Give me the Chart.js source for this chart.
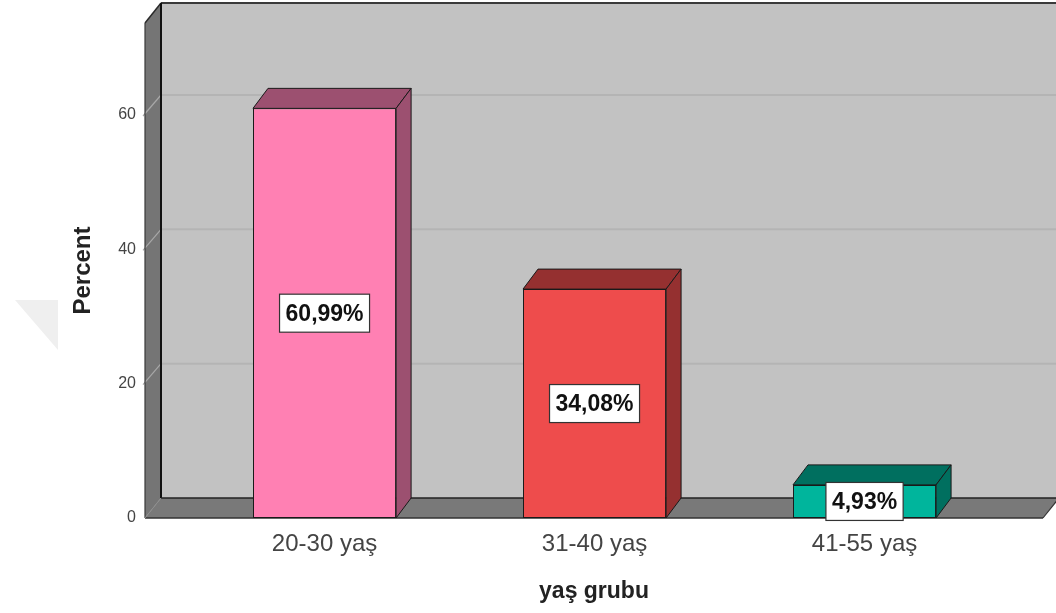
<!DOCTYPE html>
<html>
<head>
<meta charset="utf-8">
<title>yaş grubu</title>
<script src="https://cdn.jsdelivr.net/npm/chart.js@4.4.1/dist/chart.umd.min.js"></script>
<style>
  html, body { margin: 0; padding: 0; background: #fff; }
  canvas { display: block; }
</style>
</head>
<body>
<canvas id="chart" width="1056" height="613"></canvas>
<script>
const categories = ['20-30 yaş', '31-40 yaş', '41-55 yaş'];
const percents = [60.99, 34.08, 4.93];
const percentTicks = [0, 20, 40, 60];

const frontColors = ['#ff80b3', '#ee4c4c', '#00b59c'];
const sideColors = ['#9c5070', '#953030', '#006f5f'];

// depth of the walls and of the bars (screen offset of the back face)
const WALL_DX = 16, WALL_DY = -20;
const BAR_DX = 15, BAR_DY = -20;

const FONT = 'Arial, "Liberation Sans", sans-serif';

function poly(ctx, pts, fill, stroke, lw) {
    ctx.beginPath();
    ctx.moveTo(pts[0][0], pts[0][1]);
    for (let i = 1; i < pts.length; i++) ctx.lineTo(pts[i][0], pts[i][1]);
    ctx.closePath();
    if (fill) { ctx.fillStyle = fill; ctx.fill(); }
    if (stroke) { ctx.strokeStyle = stroke; ctx.lineWidth = lw || 1; ctx.stroke(); }
}

function line(ctx, x1, y1, x2, y2, color, lw) {
    ctx.beginPath();
    ctx.moveTo(x1, y1);
    ctx.lineTo(x2, y2);
    ctx.strokeStyle = color;
    ctx.lineWidth = lw;
    ctx.stroke();
}

const box3d = {
    id: 'box3d',
    beforeDraw(chart) {
        const ctx = chart.ctx;
        ctx.save();
        poly(ctx, [[15, 300], [58, 300], [58, 350]], '#efefef');
        ctx.restore();
    },
    beforeDatasetsDraw(chart) {
        const ctx = chart.ctx;
        const { left, right, top, bottom } = chart.chartArea;
        const W = chart.width;
        const yScale = chart.scales.y;
        const bl = left + WALL_DX, bt = top + WALL_DY, bb = bottom + WALL_DY;
        ctx.save();

        // back wall
        poly(ctx, [[bl, bt], [W, bt], [W, bb], [bl, bb]], '#c2c2c2');
        // left wall
        poly(ctx, [[left, top], [bl, bt], [bl, bb], [left, bottom]], '#757575');
        // floor
        poly(ctx, [[left, bottom], [bl, bb], [W, bb], [W, bottom + (W - right) * WALL_DY / WALL_DX],
                   [right, bottom]], '#797979');

        // gridlines on the back wall and the matching diagonals on the side wall
        yScale.ticks.forEach(t => {
            if (t.value === 0) return;
            const py = yScale.getPixelForValue(t.value);
            line(ctx, bl, py + WALL_DY, W, py + WALL_DY, '#b4b4b4', 2);
            line(ctx, left - 2, py + 1, bl, py + WALL_DY, '#a8a8a8', 1.2);
        });

        // edges
        line(ctx, bl, bt, W, bt, '#3a3a3a', 2);
        line(ctx, left, top, bl, bt, '#2a2a2a', 1.5);
        line(ctx, left, top, left, bottom, '#3a3a3a', 1.2);
        line(ctx, bl, bt, bl, bb, '#111', 2);
        line(ctx, bl, bb, W, bb, '#222', 1.5);
        line(ctx, left, bottom, right, bottom, '#333', 1.5);
        line(ctx, right, bottom, right + WALL_DX, bb, '#333', 1.2);
        line(ctx, left, bottom, bl, bb, '#8c8c8c', 1);
        ctx.restore();
    },
    afterDatasetsDraw(chart) {
        const ctx = chart.ctx;
        const meta = chart.getDatasetMeta(0);
        ctx.save();
        meta.data.forEach((bar, i) => {
            const { x, y, base, width } = bar.getProps(['x', 'y', 'base', 'width'], true);
            const l = x - width / 2, r = x + width / 2;
            // top face
            poly(ctx, [[l, y], [l + BAR_DX, y + BAR_DY], [r + BAR_DX, y + BAR_DY], [r, y]],
                 sideColors[i], '#1a1a1a', 1);
            // right face
            poly(ctx, [[r, y], [r + BAR_DX, y + BAR_DY], [r + BAR_DX, base + BAR_DY], [r, base]],
                 sideColors[i], '#1a1a1a', 1);
        });

        // value boxes
        ctx.font = 'bold 23px ' + FONT;
        ctx.textAlign = 'center';
        ctx.textBaseline = 'middle';
        meta.data.forEach((bar, i) => {
            const { x, y, base } = bar.getProps(['x', 'y', 'base'], true);
            const txt = percents[i].toFixed(2).replace('.', ',') + '%';
            const tw = ctx.measureText(txt).width;
            const cy = (y + base) / 2;
            const bw = tw + 12, bh = 38;
            ctx.fillStyle = '#fff';
            ctx.fillRect(x - bw / 2, cy - bh / 2, bw, bh);
            ctx.strokeStyle = '#333';
            ctx.lineWidth = 1.2;
            ctx.strokeRect(x - bw / 2, cy - bh / 2, bw, bh);
            ctx.fillStyle = '#111';
            ctx.fillText(txt, x, cy + 1);
        });
        ctx.restore();
    }
};

new Chart(document.getElementById('chart'), {
    type: 'bar',
    data: {
        datasets: [{
            data: percents.map((v, i) => ({ x: i + 1, y: v })),
            backgroundColor: frontColors,
            borderColor: '#1a1a1a',
            borderWidth: 1,
            borderSkipped: false,
            categoryPercentage: 1,
            barPercentage: 0.53
        }]
    },
    options: {
        responsive: false,
        animation: false,
        devicePixelRatio: 1,
        layout: { padding: { left: 0, right: 13, top: 23, bottom: 0 } },
        plugins: {
            legend: { display: false },
            tooltip: { enabled: false }
        },
        scales: {
            x: {
                type: 'linear',
                min: 0.335,
                max: 3.661,
                offset: false,
                grid: { display: false, drawTicks: false },
                border: { display: false },
                afterBuildTicks: s => { s.ticks = categories.map((c, i) => ({ value: i + 1 })); },
                afterFit: s => { s.height = 95; },
                ticks: {
                    autoSkip: false,
                    maxRotation: 0,
                    padding: 12,
                    color: '#444',
                    font: { family: FONT, size: 24 },
                    callback: v => categories[v - 1]
                },
                title: {
                    display: true,
                    text: 'yaş grubu',
                    color: '#222',
                    font: { family: FONT, size: 23, weight: 'bold' },
                    padding: { top: 0, bottom: 8 }
                }
            },
            y: {
                min: 0,
                max: 73.7,
                grid: { display: false, drawTicks: false },
                border: { display: false },
                afterBuildTicks: s => { s.ticks = percentTicks.map(v => ({ value: v })); },
                afterFit: s => { s.width = 145; },
                ticks: {
                    padding: 9,
                    color: '#444',
                    font: { family: FONT, size: 16 }
                },
                title: {
                    display: true,
                    text: 'Percent',
                    color: '#222',
                    font: { family: FONT, size: 24, weight: 'bold' },
                    padding: { top: 69, bottom: 0 }
                }
            }
        }
    },
    plugins: [box3d]
});
</script>
</body>
</html>
